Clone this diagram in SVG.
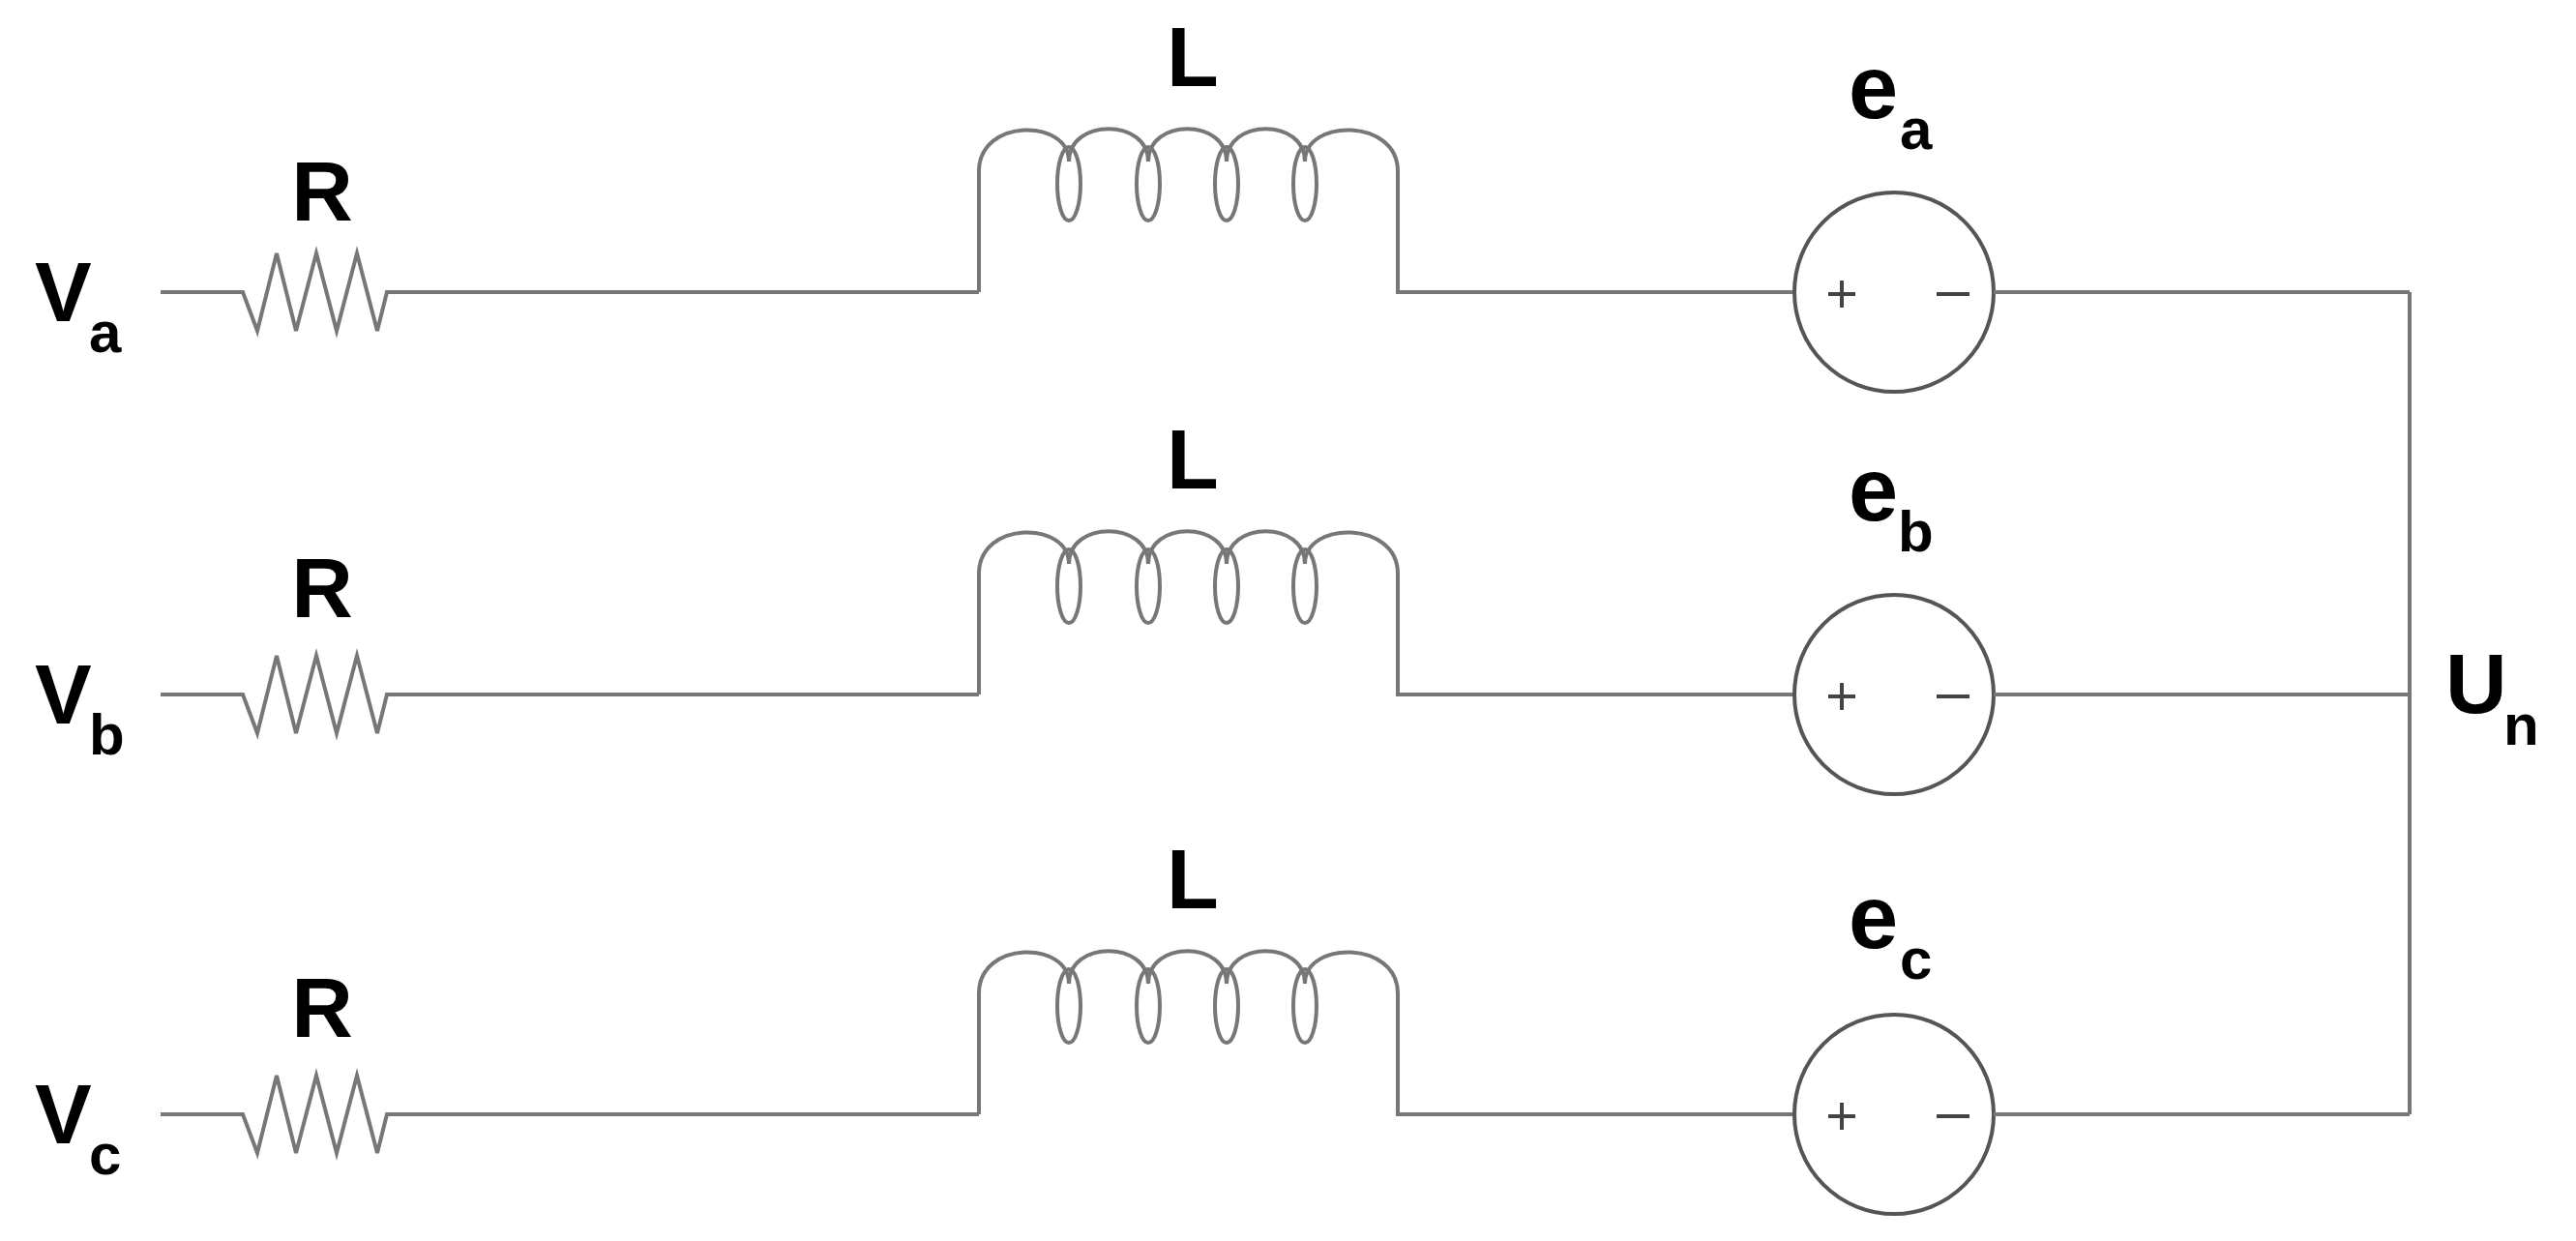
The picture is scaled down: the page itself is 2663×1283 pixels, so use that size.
<svg xmlns="http://www.w3.org/2000/svg" width="2663" height="1283" viewBox="0 0 2663 1283">
<style>
.w{fill:none;stroke:#777;stroke-width:4;stroke-linejoin:miter}
.t{font-family:"Liberation Sans",Arial,sans-serif;font-weight:bold;fill:#000}
.big{font-size:88px}.e{font-size:92px}.s{font-size:60px}
</style>
<defs>
<g id="row">
<path class="w" d="M166 0H251L266 40L286 -40L306 40L327 -40L348 40L369 -40L390 40L400 0H1012"/>
<path class="w" d="M1012 0V-125C1012 -180 1105 -180 1105 -135C1105 -180 1187 -180 1187 -135C1187 -180 1268 -180 1268 -135C1268 -180 1349 -180 1349 -135C1349 -180 1445 -180 1445 -125V0H1855"/>
<ellipse class="w" cx="1105" cy="-112" rx="12" ry="38"/>
<ellipse class="w" cx="1187" cy="-112" rx="12" ry="38"/>
<ellipse class="w" cx="1268" cy="-112" rx="12" ry="38"/>
<ellipse class="w" cx="1349" cy="-112" rx="12" ry="38"/>
<circle cx="1958" cy="0" r="103" fill="none" stroke="#555" stroke-width="4"/>
<path d="M1890 2H1918M1904 -12V16M2002 2H2036" stroke="#444" stroke-width="4"/>
<path class="w" d="M2061 0H2491"/>
</g>
</defs>
<g id="connectors"><path class="w" d="M2491 302V1152"/></g>
<g id="phase-a"><use href="#row" y="302"/>
<text class="t big" x="333" y="228" text-anchor="middle">R</text>
<text class="t big" x="1233" y="89" text-anchor="middle">L</text>
<text class="t big" x="36" y="332">V</text><text class="t s" x="92" y="364">a</text>
<text class="t e" x="1911" y="122">e</text><text class="t s" x="1964" y="154">a</text></g>
<g id="phase-b"><use href="#row" y="718"/>
<text class="t big" x="333" y="638" text-anchor="middle">R</text>
<text class="t big" x="1233" y="505" text-anchor="middle">L</text>
<text class="t big" x="36" y="748">V</text><text class="t s" x="92" y="780">b</text>
<text class="t e" x="1911" y="538">e</text><text class="t s" x="1962" y="570">b</text></g>
<g id="phase-c"><use href="#row" y="1152"/>
<text class="t big" x="333" y="1072" text-anchor="middle">R</text>
<text class="t big" x="1233" y="939" text-anchor="middle">L</text>
<text class="t big" x="36" y="1182">V</text><text class="t s" x="92" y="1214">c</text>
<text class="t e" x="1911" y="980">e</text><text class="t s" x="1964" y="1012">c</text></g>
<g id="Un"><text class="t big" x="2528" y="737">U</text><text class="t s" x="2588" y="770">n</text></g>
</svg>
